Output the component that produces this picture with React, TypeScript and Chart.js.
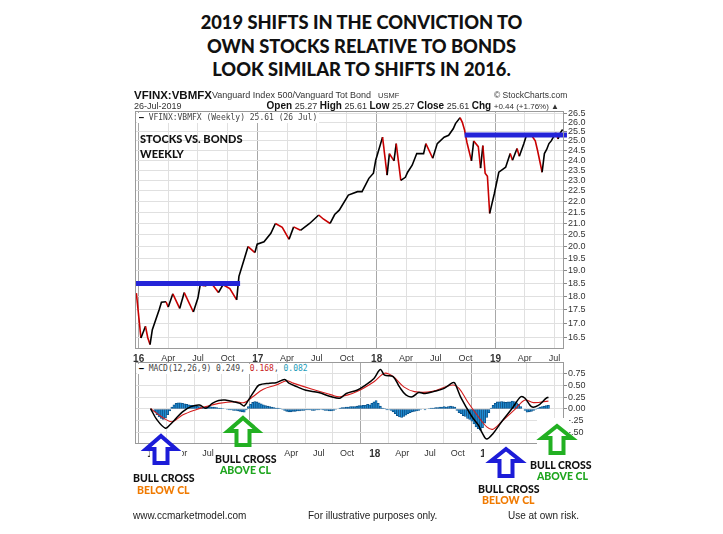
import React, { useEffect, useRef } from "react";
import { Chart, registerables } from "chart.js";
Chart.register(...registerables);

// ---------- DATA ----------
// week index: 0 = first week of Jan 2016
const priceWeeks = [-1, 1, 3, 4, 5, 6, 9, 10, 12, 13, 15, 18, 20, 24, 26, 27, 29, 32, 35, 37, 40, 43, 44, 46, 48, 51, 52, 55, 58, 60, 63, 66, 68, 71, 75, 79, 81, 84, 86, 88, 92, 96, 98, 101, 103, 104, 107, 109, 110, 112, 113, 115, 117, 118, 120, 122, 125, 126, 129, 131, 134, 136, 138, 139, 141, 142, 143, 144, 146, 147, 149, 150, 151, 152, 153, 154, 155, 156, 158, 160, 161, 163, 164, 166, 167, 169, 170, 172, 174, 175, 177, 178, 179, 180, 181, 183, 184, 185, 186];
const priceValues = [18.13, 16.49, 16.9, 16.5, 16.26, 16.78, 17.5, 17.78, 17.8, 17.6, 18.1, 17.55, 18.15, 17.42, 17.94, 18.45, 18.4, 18.5, 18.15, 18.45, 18.3, 17.87, 18.78, 19.38, 20.0, 19.75, 20.1, 20.2, 20.57, 21.0, 20.83, 20.31, 20.85, 20.7, 21.0, 21.38, 21.2, 21.0, 21.4, 21.6, 22.3, 22.46, 22.46, 23.1, 23.35, 24.0, 25.2, 23.26, 24.34, 23.97, 24.86, 23.0, 23.15, 23.4, 23.75, 24.34, 24.34, 24.86, 24.1, 24.86, 25.2, 25.3, 25.65, 25.93, 26.26, 26.0, 25.57, 24.93, 23.97, 25.0, 24.7, 23.6, 24.75, 23.35, 23.2, 21.45, 21.9, 22.35, 23.4, 23.57, 23.65, 24.34, 24.0, 24.6, 24.2, 24.86, 25.25, 25.35, 25.0, 24.5, 23.4, 24.34, 24.55, 24.86, 25.0, 25.43, 25.1, 25.43, 25.61];

const level2016Weeks = [-2, 44.5];
const level2016Value = 18.5;
const level2019Weeks = [143, 187.9];
const level2019Value = 25.31;

const macdWeeks = [-1, 2, 6, 8, 11, 14, 18, 22, 25, 28, 31, 34, 38, 41, 43, 45, 48, 50, 55, 58, 62, 64, 68, 72, 78, 84, 88, 91, 96, 100, 104, 107, 109, 113, 116, 119, 122, 125, 128, 132, 137, 141, 142, 145, 150, 153, 155, 157, 160, 164, 169, 173, 175, 178, 181, 185, 186];
const macdValues = [0.01, -0.23, -0.41, -0.34, -0.2, -0.06, 0.05, 0.085, 0.015, 0.12, 0.18, 0.19, 0.155, 0.12, 0.065, 0.19, 0.4, 0.51, 0.55, 0.56, 0.63, 0.55, 0.47, 0.4, 0.35, 0.26, 0.23, 0.33, 0.4, 0.51, 0.65, 0.84, 0.72, 0.69, 0.47, 0.3, 0.26, 0.35, 0.33, 0.37, 0.44, 0.56, 0.55, 0.23, -0.16, -0.34, -0.52, -0.64, -0.52, -0.27, 0.015, 0.26, 0.23, 0.05, 0.07, 0.23, 0.249];

const signalWeeks = [-1, 4, 9, 14, 20, 25, 31, 39, 43, 47, 52, 58, 63, 66, 75, 84, 88, 96, 104, 109, 113, 118, 123, 131, 141, 144, 148, 153, 157, 160, 164, 170, 175, 179, 186];
const signalValues = [0.01, -0.16, -0.27, -0.13, -0.02, 0.05, 0.12, 0.155, 0.135, 0.26, 0.42, 0.51, 0.6, 0.55, 0.42, 0.3, 0.26, 0.37, 0.58, 0.76, 0.69, 0.47, 0.37, 0.37, 0.51, 0.44, 0.155, -0.16, -0.38, -0.43, -0.27, -0.02, 0.19, 0.135, 0.168];

// weekly histogram, weeks 0..186
const histValues = [
  0, -0.06, -0.12,
  -0.17, -0.2, -0.22, -0.19, -0.12,
  -0.04, 0.04, 0.09,
  0.12, 0.13, 0.13, 0.12,
  0.11, 0.1, 0.09, 0.08, 0.08, 0.07,
  0.06, 0.05, 0.03, 0.02, 0.04, 0.05, 0.05,
  0.04, 0.04, 0.03, 0.02, 0.02, 0.01, 0.0, -0.01,
  -0.02, -0.02, -0.03, -0.03, -0.04, -0.05, -0.06, -0.07, -0.02,
  0.05, 0.1, 0.14, 0.16, 0.15, 0.13, 0.11,
  0.09, 0.07, 0.06, 0.05, 0.04, 0.03, 0.02,
  0.02, 0.01, -0.01, -0.03, -0.05, -0.06,
  -0.06, -0.05, -0.05, -0.04, -0.04, -0.03, -0.03, -0.02,
  -0.02, -0.02, -0.03, -0.03, -0.02, -0.02, -0.01, -0.02,
  -0.03, -0.03, -0.04, -0.04, -0.03, -0.01, 0.0, 0.02,
  0.03, 0.03, 0.04, 0.04, 0.05, 0.05, 0.05, 0.06,
  0.07, 0.07, 0.08, 0.08, 0.1, 0.09, 0.12, 0.15,
  0.18, 0.12, 0.06, 0.02,
  0.01, -0.02, -0.01, -0.03, -0.06, -0.1,
  -0.14, -0.17, -0.18, -0.16, -0.13, -0.1, -0.08,
  -0.06, -0.05, -0.04, -0.03, -0.01, 0.0, -0.02,
  0.0, 0.01, 0.02, 0.02, 0.03, 0.03, 0.04, 0.04,
  0.05, 0.04, 0.05, 0.06, 0.05, 0.04,
  -0.03, -0.08, -0.1, -0.14, -0.16, -0.2, -0.22,
  -0.26, -0.32, -0.38, -0.42, -0.45, -0.4, -0.3,
  -0.18, -0.08, 0.02, 0.08, 0.12,
  0.15, 0.15, 0.16, 0.15, 0.14, 0.15, 0.15, 0.17,
  0.16, 0.13, 0.1, 0.05, 0.0, -0.03,
  -0.07, -0.06, -0.05, -0.03, -0.01,
  0.02, 0.04, 0.05, 0.06, 0.07, 0.08,
];

const quarterWeeks = [0, 13, 26, 39.1, 52.3, 65.1, 78.1, 91.3, 104.4, 117.3, 130.3, 143.4, 156.6, 169.4, 182.4];
const quarterLabels = ["16", "Apr", "Jul", "Oct", "17", "Apr", "Jul", "Oct", "18", "Apr", "Jul", "Oct", "19", "Apr", "Jul"];
const priceTicks = [16.5, 17, 17.5, 18, 18.5, 19, 19.5, 20, 20.5, 21, 21.5, 22, 22.5, 23, 23.5, 24, 24.5, 25, 25.5, 26, 26.5];
const macdTicks = [-0.5, -0.25, 0, 0.25, 0.5, 0.75];

// ---------- STYLE ----------
const SANS = "'Liberation Sans', Arial, sans-serif";
const MONO = "'DejaVu Sans Mono', monospace";
const HEAVY = "Lato, 'Open Sans', sans-serif";
const W = 723;
const H = 534;

const isYear = (i: number) => /^\d\d$/.test(quarterLabels[i] || "");

const boxPlugin = {
  id: "box",
  afterDatasetsDraw(chart: any) {
    const { ctx, chartArea: a } = chart;
    ctx.save();
    ctx.strokeStyle = "#9a9a9a";
    ctx.lineWidth = 1;
    ctx.strokeRect(Math.round(a.left) + 0.5, Math.round(a.top) + 0.5, Math.round(a.right - a.left) - 1, Math.round(a.bottom - a.top) - 1);
    ctx.restore();
  },
};

function xAxis() {
  return {
    type: "linear",
    min: -1.6,
    max: 186.6,
    afterBuildTicks: (s: any) => {
      s.ticks = quarterWeeks.map((v) => ({ value: v }));
    },
    afterFit: (s: any) => {
      s.height = 16;
    },
    border: { display: false },
    grid: {
      drawTicks: false,
      color: (c: any) => (c.index !== undefined && isYear(c.index) ? "#a8a8a8" : "#e0e0e0"),
    },
    ticks: {
      autoSkip: false,
      maxRotation: 0,
      minRotation: 0,
      padding: 4,
      color: "#333",
      callback: (_v: any, i: number) => quarterLabels[i],
      font: (c: any) => (isYear(c.index) ? { family: SANS, size: 10, weight: "bold" } : { family: SANS, size: 9 }),
    },
  };
}

function pts(weeks: number[], vals: number[]) {
  return weeks.map((w, i) => ({ x: w, y: vals[i] }));
}

export default function App() {
  const priceRef = useRef<HTMLCanvasElement>(null);
  const macdRef = useRef<HTMLCanvasElement>(null);

  useEffect(() => {
    const price = new Chart(priceRef.current as HTMLCanvasElement, {
      type: "line",
      data: {
        datasets: [
          {
            data: pts(level2016Weeks, level2016Weeks.map(() => level2016Value)),
            borderColor: "#2424d8",
            borderWidth: 5,
            pointRadius: 0,
            order: 1,
          },
          {
            data: pts(level2019Weeks, level2019Weeks.map(() => level2019Value)),
            borderColor: "#2424d8",
            borderWidth: 5,
            pointRadius: 0,
            order: 1,
            clip: false,
          },
          {
            data: pts(priceWeeks, priceValues),
            borderColor: "#000",
            borderWidth: 1.6,
            pointRadius: 0,
            tension: 0,
            order: 2,
            segment: {
              borderColor: (c: any) => (c.p1.parsed.y < c.p0.parsed.y ? "#c80000" : "#000"),
            },
          },
        ],
      },
      options: {
        responsive: false,
        animation: false,
        events: [],
        layout: { padding: { left: 135, right: 129, top: 111, bottom: 169 } },
        plugins: { legend: { display: false }, tooltip: { enabled: false } },
        scales: {
          x: xAxis() as any,
          y: {
            type: "logarithmic",
            position: "right",
            min: 16.11,
            max: 26.63,
            afterBuildTicks: (s: any) => {
              s.ticks = priceTicks.map((v) => ({ value: v }));
            },
            afterFit: (s: any) => {
              s.width = 30;
            },
            border: { display: false },
            grid: { color: "#e0e0e0", tickLength: 3, tickColor: "#888" },
            ticks: {
              autoSkip: false,
              padding: 1,
              color: "#333",
              font: { family: SANS, size: 9 },
              callback: (v: any) => Number(v).toFixed(1),
            },
          } as any,
        },
      },
      plugins: [boxPlugin],
    } as any);

    const macd = new Chart(macdRef.current as HTMLCanvasElement, {
      type: "line",
      data: {
        datasets: [
          {
            type: "bar",
            data: histValues.map((v, i) => ({ x: i, y: v })),
            backgroundColor: "#1f8dd4",
            borderColor: "#0a4f86",
            borderWidth: 0.8,
            borderSkipped: false,
            barPercentage: 1,
            categoryPercentage: 1,
            order: 3,
          },
          {
            data: pts(signalWeeks, signalValues),
            borderColor: "#d41c1c",
            borderWidth: 1.1,
            pointRadius: 0,
            tension: 0.35,
            order: 2,
          },
          {
            data: pts(macdWeeks, macdValues),
            borderColor: "#000",
            borderWidth: 1.5,
            pointRadius: 0,
            tension: 0.35,
            order: 1,
          },
        ],
      },
      options: {
        responsive: false,
        animation: false,
        events: [],
        layout: { padding: { left: 135, right: 129, top: 362, bottom: 74 } },
        plugins: { legend: { display: false }, tooltip: { enabled: false } },
        scales: {
          x: xAxis() as any,
          y: {
            type: "linear",
            position: "right",
            min: -0.745,
            max: 1.0,
            afterBuildTicks: (s: any) => {
              s.ticks = macdTicks.map((v) => ({ value: v }));
            },
            afterFit: (s: any) => {
              s.width = 30;
            },
            border: { display: false },
            grid: { color: "#e0e0e0", tickLength: 3, tickColor: "#888" },
            ticks: {
              autoSkip: false,
              padding: 1,
              color: "#333",
              font: { family: SANS, size: 9 },
              callback: (v: any) => (v < 0 ? "-" + Math.abs(v).toFixed(2).slice(1) : Number(v).toFixed(2)),
            },
          } as any,
        },
      },
      plugins: [boxPlugin],
    } as any);

    return () => {
      price.destroy();
      macd.destroy();
    };
  }, []);

  const abs = (left: number, top: number, extra: any = {}) => ({
    position: "absolute" as const,
    left,
    top,
    whiteSpace: "nowrap" as const,
    lineHeight: 1,
    ...extra,
  });

  const arrow = (tipX: number, tipY: number, halfW: number, headH: number, shaftHalf: number, bottom: number, color: string) => {
    const b = tipY + headH;
    const p = [
      [tipX, tipY],
      [tipX + halfW, b],
      [tipX + shaftHalf, b],
      [tipX + shaftHalf, bottom],
      [tipX - shaftHalf, bottom],
      [tipX - shaftHalf, b],
      [tipX - halfW, b],
    ]
      .map((q) => q.join(","))
      .join(" ");
    return <polygon points={p} fill="#fff" stroke={color} strokeWidth={4} strokeLinejoin="miter" />;
  };

  const labelBold = { fontFamily: HEAVY, fontWeight: 900, fontSize: 10.5 };

  return (
    <div style={{ position: "absolute", left: 0, top: 0, width: W, height: H, background: "#fff", overflow: "hidden" }}>
      {/* Title */}
      {["2019 SHIFTS IN THE CONVICTION TO", "OWN STOCKS RELATIVE TO BONDS", "LOOK SIMILAR TO SHIFTS IN 2016."].map((t, i) => (
        <div
          key={i}
          style={{
            position: "absolute",
            left: 0,
            width: W,
            top: 12 + i * 23.5,
            textAlign: "center",
            fontFamily: HEAVY,
            fontWeight: 900,
            fontSize: 18.3,
            lineHeight: "21px",
            color: "#111",
          }}
        >
          {t}
        </div>
      ))}

      <canvas ref={priceRef} width={W} height={H} style={{ position: "absolute", left: 0, top: 0 }} />
      <canvas ref={macdRef} width={W} height={H} style={{ position: "absolute", left: 0, top: 0 }} />

      {/* Header */}
      <div style={abs(134, 90, { fontFamily: SANS, fontWeight: "bold", fontSize: 11.5, color: "#111" })}>VFINX:VBMFX</div>
      <div style={abs(212, 91, { fontFamily: SANS, fontSize: 9, color: "#333" })}>Vanguard Index 500/Vanguard Tot Bond</div>
      <div style={abs(378, 92, { fontFamily: SANS, fontSize: 7.5, color: "#333" })}>USMF</div>
      <div style={abs(494, 91, { fontFamily: SANS, fontSize: 8.5, color: "#333" })}>© StockCharts.com</div>
      <div style={abs(134, 102, { fontFamily: SANS, fontSize: 9, color: "#333" })}>26-Jul-2019</div>
      <div style={{ position: "absolute", right: W - 559, top: 101, whiteSpace: "nowrap", lineHeight: 1, fontFamily: SANS, fontSize: 9, color: "#333" }}>
        <b style={{ fontSize: 10, color: "#111" }}>Open</b> 25.27 <b style={{ fontSize: 10, color: "#111" }}>High</b> 25.61{" "}
        <b style={{ fontSize: 10, color: "#111" }}>Low</b> 25.27 <b style={{ fontSize: 10, color: "#111" }}>Close</b> 25.61{" "}
        <b style={{ fontSize: 10, color: "#111" }}>Chg</b> <span style={{ fontSize: 8 }}>+0.44 (+1.76%) ▲</span>
      </div>

      {/* Price legend */}
      <div style={abs(137, 113, { fontFamily: MONO, fontSize: 8, color: "#444", background: "#fff", padding: "1px 2px" })}>
        <span style={{ color: "#000", fontWeight: "bold" }}>—</span> VFINX:VBMFX (Weekly) 25.61 (26 Jul)
      </div>
      <div style={abs(140, 131, { fontFamily: HEAVY, fontWeight: 900, fontSize: 11, color: "#111", lineHeight: "15px" })}>
        STOCKS VS. BONDS
        <br />
        WEEKLY
      </div>

      {/* MACD legend */}
      <div style={abs(137, 364, { fontFamily: MONO, fontSize: 8, color: "#444", background: "#fff", padding: "1px 2px" })}>
        <span style={{ color: "#000", fontWeight: "bold" }}>—</span> MACD(12,26,9) 0.249, <span style={{ color: "#c81c1c" }}>0.168</span>,{" "}
        <span style={{ color: "#1a9bb8" }}>0.082</span>
      </div>

      {/* White cover areas */}
      <div style={{ position: "absolute", left: 150, top: 446, width: 32, height: 14, background: "#fff" }} />
      <div style={{ position: "absolute", left: 214, top: 445, width: 62, height: 15, background: "#fff" }} />
      <div style={{ position: "absolute", left: 484, top: 445, width: 86, height: 15, background: "#fff" }} />
      <div style={{ position: "absolute", left: 537, top: 418, width: 32, height: 30, background: "#fff" }} />

      {/* Arrows */}
      <svg width={W} height={H} style={{ position: "absolute", left: 0, top: 0 }}>
        {arrow(161, 436, 15, 13, 6.5, 463, "#1c1cd8")}
        {arrow(243, 418, 15, 13, 6.5, 445, "#22b022")}
        {arrow(506, 449, 15, 12, 6.5, 476, "#1c1cd8")}
        {arrow(557, 426, 15, 12, 6.5, 453, "#22b022")}
      </svg>

      {/* Annotation labels */}
      <div style={abs(133, 473, { ...labelBold, color: "#111" })}>BULL CROSS</div>
      <div style={abs(137, 485, { ...labelBold, color: "#f07a00" })}>BELOW CL</div>
      <div style={abs(215, 454, { ...labelBold, color: "#111", background: "#fff" })}>BULL CROSS</div>
      <div style={abs(220, 465, { ...labelBold, color: "#1ea51e" })}>ABOVE CL</div>
      <div style={abs(478, 484, { ...labelBold, color: "#111" })}>BULL CROSS</div>
      <div style={abs(482, 495, { ...labelBold, color: "#f07a00" })}>BELOW CL</div>
      <div style={abs(530, 460, { ...labelBold, color: "#111" })}>BULL CROSS</div>
      <div style={abs(537, 471, { ...labelBold, color: "#1ea51e" })}>ABOVE CL</div>

      {/* Footer */}
      <div style={abs(133, 511, { fontFamily: SANS, fontSize: 10, color: "#222" })}>www.ccmarketmodel.com</div>
      <div style={abs(308, 511, { fontFamily: SANS, fontSize: 10, color: "#222" })}>For illustrative purposes only.</div>
      <div style={abs(508, 511, { fontFamily: SANS, fontSize: 10, color: "#222" })}>Use at own risk.</div>
    </div>
  );
}
